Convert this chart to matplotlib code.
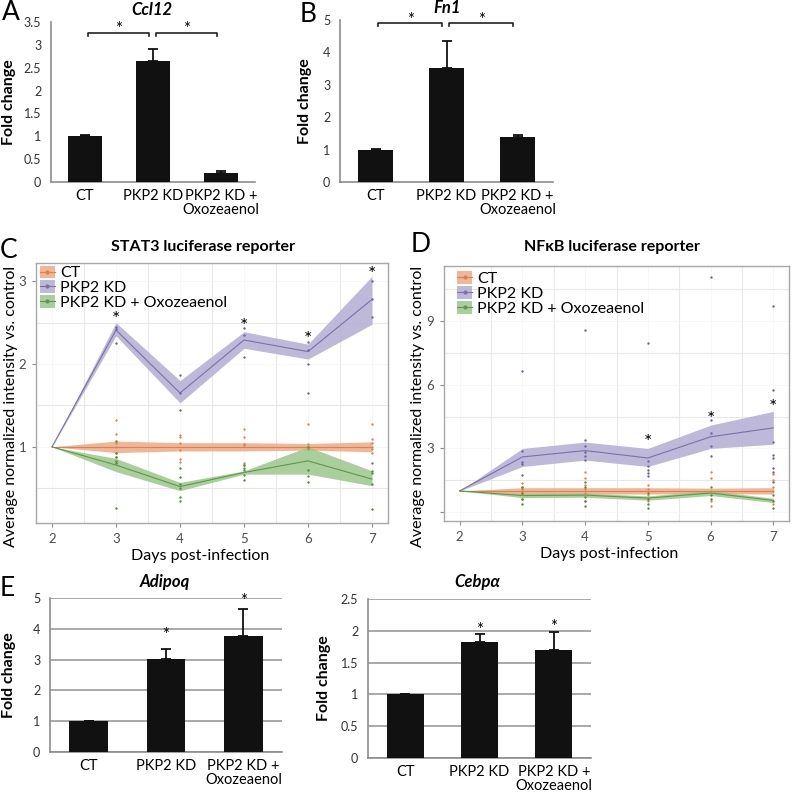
import numpy as np
import matplotlib
matplotlib.use('Agg')
import matplotlib.pyplot as plt
from matplotlib.patches import Patch
from matplotlib.lines import Line2D

plt.rcParams['font.family'] = ['Lato', 'DejaVu Sans']

W, H = 792, 796

# ---- bar panels ----
bar_cats = ['CT', 'PKP2 KD', 'PKP2 KD +\nOxozeaenol']

ccl12_vals = [1.0, 2.65, 0.2]
ccl12_errs = [0.02, 0.26, 0.05]
fn1_vals = [1.0, 3.52, 1.39]
fn1_errs = [0.02, 0.83, 0.06]
adipoq_vals = [1.0, 3.02, 3.77]
adipoq_errs = [0.02, 0.31, 0.86]
cebpa_vals = [1.0, 1.82, 1.7]
cebpa_errs = [0.01, 0.13, 0.28]

ccl12_pairs = [(0, 1), (1, 2)]
ccl12_bracket_y = 3.26
fn1_pairs = [(0, 1), (1, 2)]
fn1_bracket_y = 4.9
adipoq_star_idx = [1, 2]
adipoq_star_y = [3.9, 5.0]
cebpa_star_idx = [1, 2]
cebpa_star_y = [2.06, 2.12]

# ---- luciferase reporters ----
days = [2, 3, 4, 5, 6, 7]
group_names = ['CT', 'PKP2 KD', 'PKP2 KD + Oxozeaenol']

stat3_ct_mean = [1, 1.0, 1.0, 1.0, 1.0, 1.0]
stat3_ct_lo = [1, 0.93, 0.95, 0.95, 0.96, 0.94]
stat3_ct_hi = [1, 1.07, 1.05, 1.05, 1.04, 1.06]
stat3_kd_mean = [1, 2.41, 1.65, 2.29, 2.15, 2.78]
stat3_kd_lo = [1, 2.34, 1.53, 2.19, 2.06, 2.48]
stat3_kd_hi = [1, 2.5, 1.8, 2.39, 2.24, 3.06]
stat3_oxo_mean = [1, 0.78, 0.52, 0.69, 0.83, 0.61]
stat3_oxo_lo = [1, 0.7, 0.47, 0.67, 0.67, 0.53]
stat3_oxo_hi = [1, 0.86, 0.57, 0.71, 1.0, 0.71]

stat3_ct_pt_day = [3, 3, 3, 3, 3, 3, 4, 4, 4, 4, 4, 4, 5, 5, 5, 5, 5, 5, 6, 6, 6, 6, 7, 7, 7, 7, 7, 7]
stat3_ct_pt_val = [1.32, 1.16, 1.05, 1.0, 0.93, 0.88, 1.14, 1.12, 1.05, 0.96, 0.85, 0.82,
                   1.22, 1.12, 1.04, 1.02, 0.8, 0.78, 1.28, 1.03, 1.0, 0.97,
                   1.28, 1.1, 1.05, 1.0, 0.97, 0.93]
stat3_kd_pt_day = [3, 3, 3, 4, 4, 4, 5, 5, 5, 6, 6, 6, 6, 7, 7, 7]
stat3_kd_pt_val = [2.45, 2.42, 2.25, 1.87, 1.65, 1.45, 2.43, 2.35, 2.08,
                   2.27, 2.17, 2.0, 1.65, 3.0, 2.78, 2.57]
stat3_oxo_pt_day = [3, 3, 3, 3, 3, 3, 4, 4, 4, 4, 4, 4, 5, 5, 5, 5, 5, 6, 6, 6, 6, 7, 7, 7, 7, 7]
stat3_oxo_pt_val = [1.07, 0.92, 0.88, 0.83, 0.8, 0.26, 0.75, 0.63, 0.55, 0.5, 0.4, 0.35,
                    0.78, 0.75, 0.72, 0.66, 0.6, 1.0, 0.72, 0.65, 0.58,
                    0.8, 0.71, 0.68, 0.55, 0.25]
stat3_star_days = [3, 5, 6, 7]
stat3_star_y = [2.58, 2.5, 2.34, 3.12]

nfkb_ct_mean = [1, 1.0, 1.0, 1.0, 1.0, 1.0]
nfkb_ct_lo = [1, 0.85, 0.85, 0.85, 0.87, 0.85]
nfkb_ct_hi = [1, 1.15, 1.15, 1.15, 1.13, 1.15]
nfkb_kd_mean = [1, 2.6, 2.9, 2.55, 3.55, 3.97]
nfkb_kd_lo = [1, 2.15, 2.45, 2.15, 3.0, 3.2]
nfkb_kd_hi = [1, 3.0, 3.3, 3.0, 4.1, 4.75]
nfkb_oxo_mean = [1, 0.78, 0.8, 0.66, 0.9, 0.55]
nfkb_oxo_lo = [1, 0.68, 0.7, 0.56, 0.78, 0.45]
nfkb_oxo_hi = [1, 0.88, 0.9, 0.76, 1.02, 0.65]

nfkb_ct_pt_day = [3, 3, 3, 3, 3, 3, 4, 4, 4, 4, 4, 4, 5, 5, 5, 5, 6, 6, 6, 6, 6, 7, 7, 7, 7, 7]
nfkb_ct_pt_val = [1.35, 1.2, 1.1, 1.0, 0.85, 0.6, 1.9, 1.6, 1.3, 1.1, 0.9, 0.5,
                  1.3, 1.1, 0.8, 0.5, 1.9, 1.6, 1.0, 0.5, 0.3, 1.8, 1.5, 1.2, 1.0, 0.4]
nfkb_kd_pt_day = [3, 3, 3, 3, 3, 4, 4, 4, 4, 4, 4, 5, 5, 5, 5, 5, 5, 6, 6, 6, 6, 6, 7, 7, 7, 7, 7, 7, 7]
nfkb_kd_pt_val = [6.65, 2.9, 2.35, 2.25, 1.75, 8.6, 3.4, 3.1, 2.85, 2.65, 2.45,
                  7.95, 2.4, 2.15, 2.0, 1.85, 1.7, 11.1, 4.35, 3.75, 3.1, 2.65,
                  9.7, 5.75, 3.3, 2.7, 2.55, 2.08, 1.9]
nfkb_oxo_pt_day = [3, 3, 3, 3, 4, 4, 4, 4, 4, 5, 5, 5, 5, 6, 6, 6, 7, 7, 7, 7]
nfkb_oxo_pt_val = [1.2, 0.9, 0.6, 0.4, 1.4, 1.2, 0.7, 0.5, 0.3, 0.9, 0.6, 0.4, 0.2,
                   1.2, 0.8, 0.6, 1.4, 0.8, 0.5, 0.2]
nfkb_star_days = [5, 6, 7]
nfkb_star_y = [3.45, 4.55, 5.1]

band_colors = ['#EDAA85', '#B3ACD3', '#9DC68C']
line_colors = ['#E27F50', '#7C70AA', '#5A9A48']
dot_colors = ['#DE8558', '#6F64A2', '#4F9040']


def px_axes(fig, left, top, right, bottom):
    return fig.add_axes([left / W, 1 - bottom / H, (right - left) / W, (bottom - top) / H])


def ftext(fig, x, y, s, **kw):
    fig.text(x / W, 1 - y / H, s, va='center', **kw)


def star(ax, x, y, size=12):
    # asterisk glyph sits high in its box, nudge down so its centre lands on y
    ax.annotate('*', (x, y), xytext=(0, -2.5), textcoords='offset points',
                ha='center', va='center', fontsize=size, annotation_clip=False)


def bar_panel(ax, vals, errs, ymax, ystep, ylab_x, grid=False):
    x = np.arange(len(vals))
    ax.bar(x, vals, width=0.5, color='#111111', zorder=3)
    ax.errorbar(x, vals, yerr=[np.zeros(len(errs)), errs], fmt='none', ecolor='#111111',
                elinewidth=1.3, capsize=3.5, capthick=1.3, zorder=4)
    ax.set_xlim(-0.5, len(vals) - 0.5)
    ax.set_ylim(0, ymax)
    ticks = np.arange(0, ymax + ystep / 2, ystep)
    ax.set_yticks(ticks)
    ax.set_yticklabels(['{:g}'.format(t) for t in ticks])
    ax.set_xticks(x)
    ax.set_xticklabels(bar_cats, fontsize=10.5, linespacing=1.05)
    ax.tick_params(axis='both', length=0)
    ax.tick_params(axis='y', labelsize=9, labelcolor='#333333', pad=7)
    ax.tick_params(axis='x', pad=5)
    for s in ['top', 'right']:
        ax.spines[s].set_visible(False)
    for s in ['left', 'bottom']:
        ax.spines[s].set_color('#8c8c8c')
        ax.spines[s].set_linewidth(1.2)
    if grid:
        ax.yaxis.grid(True, color='#9a9a9a', lw=1.2)
        ax.set_axisbelow(True)
    ax.set_ylabel('Fold change', fontsize=11.5, fontweight='bold')
    ax.yaxis.set_label_coords(ylab_x, 0.5)


def bracket(ax, pairs, y, h):
    for a, b in pairs:
        x0, x1 = a + 0.04, b - 0.06
        ax.plot([x0, x0, x1, x1], [y - h, y, y, y - h], color='#222222', lw=1.2,
                clip_on=False, zorder=5)
        ax.annotate('*', ((x0 + x1) / 2, y), xytext=(0, 2.5), textcoords='offset points',
                    ha='center', va='center', fontsize=12, annotation_clip=False)


def line_panel(ax, groups, pts, ylim, yticks, ylabels, minor_y, star_days, star_y,
               legend_xy, xlab_x, ylab_x):
    for k, (mean, lo, hi) in enumerate(groups):
        ax.fill_between(days, lo, hi, color=band_colors[k], alpha=0.85, lw=0, zorder=2)
    for k, (mean, lo, hi) in enumerate(groups):
        ax.plot(days, mean, color=line_colors[k], lw=0.8, zorder=3)
    for k, (pd_, pv) in enumerate(pts):
        ax.scatter(pd_, pv, s=3, color=dot_colors[k], lw=0, zorder=4)
    for d, y in zip(star_days, star_y):
        star(ax, d, y, 14)
    ax.set_xlim(1.75, 7.25)
    ax.set_ylim(*ylim)
    ax.set_xticks(days)
    ax.set_xticks([2.5, 3.5, 4.5, 5.5, 6.5], minor=True)
    ax.set_yticks(yticks)
    ax.set_yticklabels(ylabels)
    ax.set_yticks(minor_y, minor=True)
    ax.grid(which='minor', color='#E8E8E8', lw=0.8)
    ax.grid(which='major', color='#F6F6F6', lw=0.6)
    ax.set_axisbelow(True)
    ax.tick_params(which='minor', length=0)
    ax.tick_params(which='major', length=3, color='#8c8c8c', labelsize=9.5,
                   labelcolor='#4d4d4d', pad=4)
    for s in ax.spines.values():
        s.set_color('#a8a8a8')
        s.set_linewidth(1.0)
    ax.set_xlabel('Days post-infection', fontsize=11.5, labelpad=3)
    ax.xaxis.label.set_x(xlab_x)
    ax.set_ylabel('Average normalized intensity vs. control', fontsize=11.5)
    ax.yaxis.set_label_coords(ylab_x, 0.45)
    handles = [(Patch(facecolor=band_colors[k], alpha=0.85, lw=0),
                Line2D([0], [0], color=line_colors[k], lw=0.8, marker='o', ms=2))
               for k in range(3)]
    ax.legend(handles, group_names, loc='upper left', bbox_to_anchor=legend_xy,
              frameon=False, fontsize=11.5, handlelength=0.95, handleheight=0.85,
              handletextpad=0.3, labelspacing=0.0, borderpad=0, borderaxespad=0)


fig = plt.figure(figsize=(W / 100, H / 100), dpi=100)

# A
ax_a = px_axes(fig, 51, 22, 255, 182)
bar_panel(ax_a, ccl12_vals, ccl12_errs, 3.5, 0.5, -0.17)
bracket(ax_a, ccl12_pairs, ccl12_bracket_y, 0.06)
ftext(fig, 152, 10, 'Ccl12', fontsize=12, fontweight='bold', fontstyle='italic', ha='center')
ftext(fig, 2, 13, 'A', fontsize=19, ha='left')

# B
ax_b = px_axes(fig, 340, 20, 553, 182)
bar_panel(ax_b, fn1_vals, fn1_errs, 5, 1, -0.13)
bracket(ax_b, fn1_pairs, fn1_bracket_y, 0.09)
ftext(fig, 447, 8, 'Fn1', fontsize=12, fontweight='bold', fontstyle='italic', ha='center')
ftext(fig, 300, 15, 'B', fontsize=19, ha='left')

# C
ax_c = px_axes(fig, 36, 263, 388, 523)
line_panel(ax_c,
           [(stat3_ct_mean, stat3_ct_lo, stat3_ct_hi),
            (stat3_kd_mean, stat3_kd_lo, stat3_kd_hi),
            (stat3_oxo_mean, stat3_oxo_lo, stat3_oxo_hi)],
           [(stat3_ct_pt_day, stat3_ct_pt_val),
            (stat3_kd_pt_day, stat3_kd_pt_val),
            (stat3_oxo_pt_day, stat3_oxo_pt_val)],
           (0.08, 3.22), [1, 2, 3], ['1', '2', '3'], [0.5, 1.5, 2.5],
           stat3_star_days, stat3_star_y, (0.011, 0.99), 0.466, -0.052)
ftext(fig, 203, 247, 'STAT3 luciferase reporter', fontsize=11.5, fontweight='bold', ha='center')
ftext(fig, 0, 250, 'C', fontsize=19, ha='left')

# D
ax_d = px_axes(fig, 444, 266, 789, 521)
line_panel(ax_d,
           [(nfkb_ct_mean, nfkb_ct_lo, nfkb_ct_hi),
            (nfkb_kd_mean, nfkb_kd_lo, nfkb_kd_hi),
            (nfkb_oxo_mean, nfkb_oxo_lo, nfkb_oxo_hi)],
           [(nfkb_ct_pt_day, nfkb_ct_pt_val),
            (nfkb_kd_pt_day, nfkb_kd_pt_val),
            (nfkb_oxo_pt_day, nfkb_oxo_pt_val)],
           (-0.42, 11.6), [0, 3, 6, 9], ['', '3', '6', '9'], [1.5, 4.5, 7.5, 10.5],
           nfkb_star_days, nfkb_star_y, (0.038, 0.98), 0.48, -0.055)
ftext(fig, 612, 247, 'NF\u03baB luciferase reporter', fontsize=11.5, fontweight='bold', ha='center')
ftext(fig, 411, 245, 'D', fontsize=19, ha='left')

# E
ax_e1 = px_axes(fig, 50, 598, 282, 752)
bar_panel(ax_e1, adipoq_vals, adipoq_errs, 5, 1, -0.145, grid=True)
for i, y in zip(adipoq_star_idx, adipoq_star_y):
    star(ax_e1, i, y)
ftext(fig, 165, 582, 'Adipoq', fontsize=12, fontweight='bold', fontstyle='italic', ha='center')
ftext(fig, 0, 589, 'E', fontsize=19, ha='left')

ax_e2 = px_axes(fig, 368, 599, 591, 758)
bar_panel(ax_e2, cebpa_vals, cebpa_errs, 2.5, 0.5, -0.165, grid=True)
for i, y in zip(cebpa_star_idx, cebpa_star_y):
    star(ax_e2, i, y)
ftext(fig, 477, 582, 'Cebp\u03b1', fontsize=12, fontweight='bold', fontstyle='italic', ha='center')

fig.savefig('out.png', dpi=100)
